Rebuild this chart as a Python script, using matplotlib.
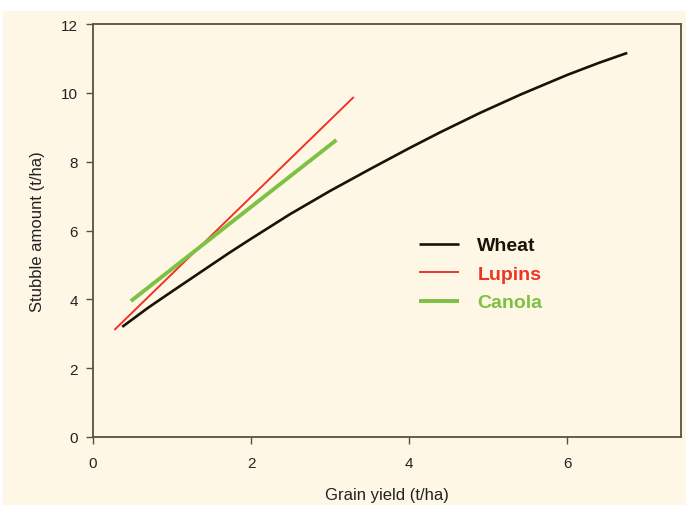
import matplotlib
matplotlib.use("Agg")
import matplotlib.pyplot as plt
from matplotlib.patches import Rectangle

plt.rcParams['font.family'] = ['Liberation Sans', 'DejaVu Sans']

wheat_x = [0.37, 0.7, 1.0, 1.4, 1.73, 2.0, 2.49, 3.0, 3.51, 4.0, 4.39, 4.9, 5.41, 6.0, 6.4, 6.76]
wheat_y = [3.2, 3.76, 4.23, 4.85, 5.36, 5.76, 6.47, 7.15, 7.79, 8.39, 8.85, 9.42, 9.95, 10.52, 10.87, 11.16]
lupins_x = [0.27, 3.30]
lupins_y = [3.11, 9.88]
canola_x = [0.48, 3.08]
canola_y = [3.95, 8.63]

xticks = [0, 2, 4, 6]
yticks = [0, 2, 4, 6, 8, 10, 12]

bg = '#FEF7E6'
spine_col = '#5a5040'
c_wheat = '#1a1208'
c_lupins = '#EE3327'
c_canola = '#7DC142'

fig = plt.figure(figsize=(6.86, 5.06), dpi=100)
fig.patch.set_facecolor('white')
fig.patches.append(Rectangle((3/686, 0), 1 - 3/686, (506-12)/506, transform=fig.transFigure,
                             facecolor=bg, edgecolor='none', zorder=-10))

ax = fig.add_axes([93/686, (506-438)/506, (681-93)/686, (438-25)/506])
ax.set_facecolor(bg)

ax.plot(wheat_x, wheat_y, color=c_wheat, lw=1.9, solid_capstyle='butt', solid_joinstyle='round', label='Wheat')
ax.plot(lupins_x, lupins_y, color=c_lupins, lw=1.4, solid_capstyle='butt', label='Lupins')
ax.plot(canola_x, canola_y, color=c_canola, lw=2.8, solid_capstyle='butt', label='Canola')

ax.set_xlim(0, 7.44)
ax.set_ylim(0, 12)
ax.set_xticks(xticks)
ax.set_yticks(yticks)
ax.tick_params(direction='out', length=5, width=1, color=spine_col, labelsize=11, pad=6,
               labelcolor='#222222')
ax.tick_params(axis='x', pad=9)
for s in ax.spines.values():
    s.set_color(spine_col)
    s.set_linewidth(1.3)

ax.set_xlabel('Grain yield (t/ha)', fontsize=12, color='#222222', labelpad=12)
ax.set_ylabel('Stubble amount (t/ha)', fontsize=12, color='#222222', labelpad=11)

leg = ax.legend(loc='upper left', bbox_to_anchor=(0.525, 0.527), frameon=False,
                handlelength=2.06, handletextpad=0.93, labelspacing=0.56,
                prop={'weight': 'bold', 'size': 14})
for txt, col in zip(leg.get_texts(), [c_wheat, c_lupins, c_canola]):
    txt.set_color(col)

fig.savefig('out.png', dpi=100, facecolor=fig.get_facecolor())
